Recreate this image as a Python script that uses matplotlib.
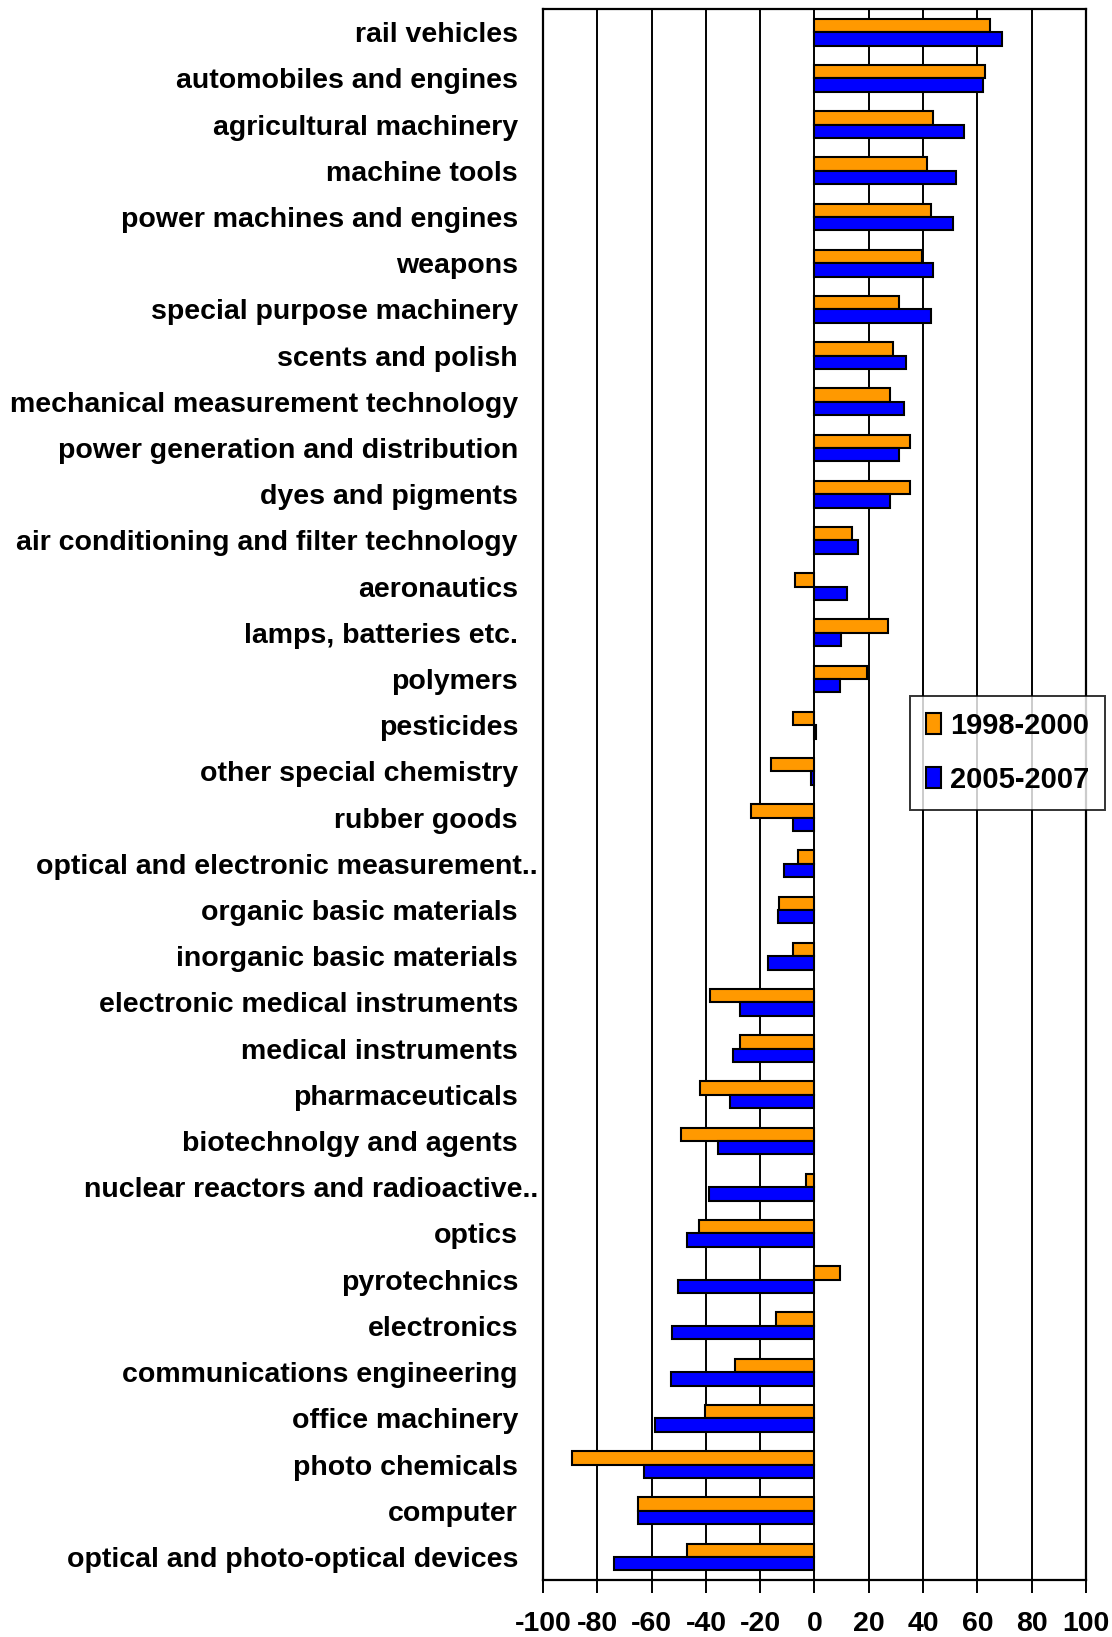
import matplotlib
matplotlib.use("Agg")
import matplotlib.pyplot as plt
import matplotlib.transforms as mtransforms
import numpy as np

plt.rcParams["font.family"] = ["Liberation Sans", "DejaVu Sans"]
plt.rcParams["font.weight"] = "bold"

categories = [
    "rail vehicles",
    "automobiles and engines",
    "agricultural machinery",
    "machine tools",
    "power machines and engines",
    "weapons",
    "special purpose machinery",
    "scents and polish",
    "mechanical measurement technology",
    "power generation and distribution",
    "dyes and pigments",
    "air conditioning and filter technology",
    "aeronautics",
    "lamps, batteries etc.",
    "polymers",
    "pesticides",
    "other special chemistry",
    "rubber goods",
    "optical and electronic measurement..",
    "organic basic materials",
    "inorganic basic materials",
    "electronic medical instruments",
    "medical instruments",
    "pharmaceuticals",
    "biotechnolgy and agents",
    "nuclear reactors and radioactive..",
    "optics",
    "pyrotechnics",
    "electronics",
    "communications engineering",
    "office machinery",
    "photo chemicals",
    "computer",
    "optical and photo-optical devices",
]

values_1998_2000 = [
    64.8, 62.9, 43.7, 41.6, 43.0, 39.6, 31.1, 29.0, 27.8, 35.1, 35.1, 13.8,
    -7.3, 27.1, 19.2, -7.9, -15.9, -23.3, -5.9, -13.0, -7.9, -38.4, -27.3,
    -42.3, -49.0, -3.3, -42.5, 9.3, -14.0, -29.3, -40.4, -89.3, -64.9, -47.0,
]
values_2005_2007 = [
    68.9, 62.2, 55.1, 52.3, 51.0, 43.7, 43.0, 33.8, 33.0, 31.2, 27.8, 15.9,
    12.1, 9.9, 9.3, 0.7, -1.4, -7.9, -11.2, -13.3, -17.3, -27.3, -29.9,
    -31.2, -35.6, -39.0, -47.0, -50.4, -52.3, -53.0, -58.9, -62.9, -64.9, -74.0,
]
series_labels = ["1998-2000", "2005-2007"]
x_ticks = [-100, -80, -60, -40, -20, 0, 20, 40, 60, 80, 100]

orange = "#FF9900"
blue = "#0000FF"

fig = plt.figure(figsize=(11.12, 16.37), dpi=100)
ax = fig.add_axes([0.4883, 0.0348, 0.4883, 0.9597])

y = np.arange(len(categories))
bar_h = 0.29

# vertical grid lines behind bars
ax.set_axisbelow(True)
ax.grid(axis="x", color="black", linewidth=1.4)

ax.barh(y - bar_h / 2, values_1998_2000, height=bar_h, color=orange,
        edgecolor="black", linewidth=1.5, label=series_labels[0])
ax.barh(y + bar_h / 2, values_2005_2007, height=bar_h, color=blue,
        edgecolor="black", linewidth=1.5, label=series_labels[1])

ax.set_xlim(-100, 100)
ax.set_ylim(len(categories) - 0.5, -0.5)
ax.set_xticks(x_ticks)
ax.set_xticklabels([str(v) for v in x_ticks], fontsize=20.5, fontweight="bold")
ax.set_yticks(y)
ax.set_yticklabels(categories, fontsize=20.5, fontweight="bold")

ax.tick_params(axis="x", direction="out", length=9, width=1.4, pad=13)
ax.tick_params(axis="y", length=0, pad=18)

for sp in ax.spines.values():
    sp.set_linewidth(1.6)
    sp.set_color("black")

# truncated labels stick out a bit further to the right
shift = mtransforms.ScaledTranslation(0.2, 0, fig.dpi_scale_trans)
for lab in ax.get_yticklabels():
    if lab.get_text().endswith(".."):
        lab.set_transform(lab.get_transform() + shift)

leg = ax.legend(
    loc="upper right",
    bbox_to_anchor=(1.035, 0.563),
    fontsize=21,
    frameon=True,
    fancybox=False,
    edgecolor="black",
    handlelength=0.5,
    handleheight=0.7,
    handletextpad=0.3,
    labelspacing=0.9,
    borderpad=0.55,
    borderaxespad=0,
)
leg.get_frame().set_linewidth(1.4)
for t in leg.get_texts():
    t.set_fontweight("bold")

fig.savefig("out.png", dpi=100)
